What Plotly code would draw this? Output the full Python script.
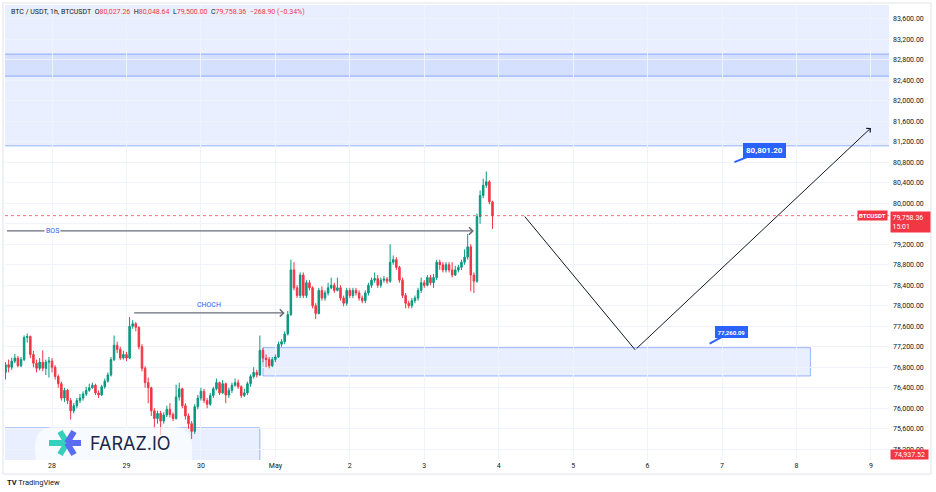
import pandas as pd
import plotly.graph_objects as go

# ---------------- data ----------------
first_bar = "2025-04-27 09:00"
bar_count = 158

open_prices = [
    76700, 76850, 76800, 76920, 76980, 76830, 76950, 77380, 77400, 77050,
    76880, 76780, 76900, 76780, 76900, 76920, 76800, 76620, 76480, 76200,
    76350, 76150, 75950, 76050, 76150, 76200, 76280, 76350, 76400, 76450,
    76300, 76260, 76420, 76530, 76650, 76950, 77230, 77150, 76980, 77050,
    76980, 77600, 77650, 77580, 77200, 76780, 76500, 76400, 75950, 75800,
    75900, 75750, 75870, 75980, 75880, 75800, 76220, 76380, 76050, 75850,
    75700, 75550, 76030, 76200, 76330, 76150, 76080, 76250, 76380, 76500,
    76300, 76480, 76260, 76350, 76450, 76500, 76420, 76250, 76300, 76480,
    76620, 76700, 76650, 77130, 76980, 76950, 76830, 76950, 77000, 77250,
    77300, 77450, 77830, 78700, 78350, 78200, 78600, 78200, 78450, 78350,
    78000, 77850, 78300, 78150, 78250, 78350, 78400, 78300, 78350, 78150,
    78050, 78300, 78200, 78300, 78250, 78150, 78100, 78250, 78400, 78500,
    78530, 78400, 78500, 78520, 78480, 78850, 78900, 78750, 78500, 78200,
    78050, 78000, 78100, 78150, 78300, 78450, 78400, 78550, 78450, 78550,
    78850, 78800, 78700, 78800, 78700, 78600, 78700, 78750, 78850, 78950,
    79150, 78600, 78480, 79740, 80150, 80350, 80420, 80027.26,
]
high_prices = [
    76900, 76950, 76990, 77060, 77020, 77000, 77420, 77460, 77420, 77120,
    76950, 76980, 77130, 76950, 77000, 76980, 76840, 76660, 76520, 76400,
    76380, 76200, 76100, 76200, 76280, 76330, 76420, 76480, 76500, 76480,
    76350, 76460, 76580, 76700, 77000, 77420, 77300, 77200, 77120, 77100,
    77780, 77720, 77680, 77600, 77250, 76820, 76600, 76420, 76000, 75950,
    75950, 75920, 76050, 76100, 75920, 76460, 76500, 76400, 76100, 75900,
    75750, 76080, 76260, 76400, 76380, 76200, 76300, 76420, 76580, 76520,
    76550, 76500, 76400, 76500, 76580, 76560, 76450, 76380, 76520, 76660,
    76800, 76750, 77420, 77180, 77050, 77000, 77000, 77050, 77300, 77350,
    77500, 77900, 78900, 78850, 78400, 78650, 78650, 78500, 78500, 78380,
    78050, 78350, 78380, 78300, 78450, 78550, 78450, 78550, 78400, 78200,
    78350, 78350, 78350, 78350, 78300, 78200, 78300, 78450, 78550, 78650,
    78600, 78550, 78580, 78560, 79200, 78980, 78950, 78780, 78550, 78250,
    78100, 78150, 78200, 78350, 78550, 78500, 78600, 78600, 78620, 78900,
    78900, 78850, 78850, 78850, 78850, 78780, 78800, 78900, 79100, 79400,
    79200, 78650, 79800, 80250, 80480, 80620, 80450, 80048.64,
]
low_prices = [
    76560, 76700, 76750, 76880, 76800, 76800, 76920, 77280, 76980, 76800,
    76700, 76740, 76720, 76650, 76600, 76700, 76560, 76400, 76150, 76120,
    76080, 75780, 75900, 76000, 76100, 76150, 76240, 76320, 76380, 76260,
    76200, 76240, 76380, 76500, 76620, 76920, 77080, 76940, 76950, 76920,
    76960, 77550, 77500, 77150, 76720, 76400, 76100, 75850, 75600, 75700,
    75480, 75700, 75830, 75820, 75750, 75780, 76150, 76000, 75780, 75600,
    75400, 75500, 75980, 76150, 76100, 76000, 76050, 76200, 76350, 76260,
    76280, 76100, 76200, 76300, 76420, 76380, 76200, 76220, 76260, 76420,
    76580, 76600, 76630, 76900, 76800, 76780, 76800, 76900, 76980, 77200,
    77250, 77420, 77800, 78300, 78150, 78150, 78150, 78150, 78300, 77950,
    77740, 77830, 78100, 78100, 78200, 78320, 78250, 78280, 78100, 77990,
    78000, 78150, 78150, 78200, 78100, 78050, 78050, 78200, 78350, 78450,
    78350, 78350, 78450, 78430, 78450, 78800, 78700, 78450, 78150, 77950,
    77950, 77950, 78050, 78100, 78250, 78350, 78380, 78400, 78350, 78500,
    78700, 78650, 78650, 78650, 78550, 78580, 78650, 78700, 78800, 78900,
    78280, 78250, 78450, 79600, 80100, 80300, 79980, 79500,
]
close_prices = [
    76850, 76800, 76920, 76980, 76830, 76950, 77380, 77400, 77050, 76880,
    76780, 76900, 76780, 76900, 76920, 76800, 76620, 76480, 76200, 76350,
    76150, 75950, 76050, 76150, 76200, 76280, 76350, 76400, 76450, 76300,
    76260, 76420, 76530, 76650, 76950, 77230, 77150, 76980, 77050, 76980,
    77600, 77650, 77580, 77200, 76780, 76500, 76400, 75950, 75800, 75900,
    75750, 75870, 75980, 75880, 75800, 76220, 76380, 76050, 75850, 75700,
    75550, 76030, 76200, 76330, 76150, 76080, 76250, 76380, 76500, 76300,
    76480, 76260, 76350, 76450, 76500, 76420, 76250, 76300, 76480, 76620,
    76700, 76650, 77130, 76980, 76950, 76830, 76950, 77000, 77250, 77300,
    77450, 77830, 78700, 78350, 78200, 78600, 78200, 78450, 78350, 78000,
    77850, 78300, 78150, 78250, 78350, 78400, 78300, 78350, 78150, 78050,
    78300, 78200, 78300, 78250, 78150, 78100, 78250, 78400, 78500, 78530,
    78400, 78500, 78520, 78480, 78850, 78900, 78750, 78500, 78200, 78050,
    78000, 78100, 78150, 78300, 78450, 78400, 78550, 78450, 78550, 78850,
    78800, 78700, 78800, 78700, 78600, 78700, 78750, 78850, 78950, 79150,
    78600, 78480, 79740, 80150, 80350, 80420, 80027.26, 79758.36,
]

price_ticks = [75200, 75600, 76000, 76400, 76800, 77200, 77600, 78000, 78400,
               78800, 79200, 79600, 80000, 80400, 80800, 81200, 81600, 82000,
               82400, 82800, 83200, 83600]
hidden_tick = 79600  # covered by the last-price label on the scale
day_ticks = ["2025-04-28", "2025-04-29", "2025-04-30", "2025-05-01", "2025-05-02",
             "2025-05-03", "2025-05-04", "2025-05-05", "2025-05-06", "2025-05-07",
             "2025-05-08", "2025-05-09"]
day_labels = ["28", "29", "30", "May", "2", "3", "4", "5", "6", "7", "8", "9"]

x_range = ["2025-04-27 08:50", "2025-05-09 05:50"]
y_range = [74991, 83868]

# drawings (levels / anchors)
bos_level = 79460
bos_times = ["2025-04-27 09:00", "2025-05-03 16:00"]
choch_level = 77860
choch_times = ["2025-04-29 02:00", "2025-05-01 03:00"]
path_times = ["2025-05-04 08:00", "2025-05-05 20:00", "2025-05-09 00:00"]
path_prices = [79770, 77140, 81470]
target_high = 80801.20
target_high_time = "2025-05-07 04:00"
target_low = 77260.09
target_low_time = "2025-05-06 20:00"
zone_top_outer = [84500, 81120]
zone_top_inner = [82910, 82480]
zone_mid = [77183, 76630]
zone_mid_times = ["2025-04-30 20:00", "2025-05-08 04:30"]
zone_low = [75620, 74000]
zone_low_end = "2025-04-30 19:00"
far_left, far_right = "2025-04-26 00:00", "2025-05-11 00:00"

last_close = 79758.36
last_open = 80027.26
last_high = 80048.64
last_low = 79500.00
range_low_label = 74937.52

# ---------------- figure ----------------
times = pd.date_range(first_bar, periods=bar_count, freq="h")

GREEN = "#089981"
RED = "#f23645"
BLUE = "#2962ff"
TXT = "#131722"

fig = go.Figure()
fig.add_trace(go.Candlestick(
    x=times, open=open_prices, high=high_prices, low=low_prices, close=close_prices,
    increasing=dict(line=dict(color=GREEN, width=1), fillcolor=GREEN),
    decreasing=dict(line=dict(color=RED, width=1), fillcolor=RED),
    whiskerwidth=0, hoverinfo="skip", showlegend=False,
))

zone_fill = "rgba(41,98,255,0.10)"
zone_line = "rgba(41,98,255,0.45)"
shapes = [
    dict(type="rect", xref="x", yref="y", x0=far_left, x1=far_right,
         y0=zone_top_outer[1], y1=zone_top_outer[0], fillcolor=zone_fill,
         line=dict(color=zone_line, width=1), layer="below"),
    dict(type="rect", xref="x", yref="y", x0=far_left, x1=far_right,
         y0=zone_top_inner[1], y1=zone_top_inner[0], fillcolor=zone_fill,
         line=dict(color=zone_line, width=1), layer="below"),
    dict(type="rect", xref="x", yref="y", x0=zone_mid_times[0], x1=zone_mid_times[1],
         y0=zone_mid[1], y1=zone_mid[0], fillcolor=zone_fill,
         line=dict(color=zone_line, width=1), layer="below"),
    dict(type="rect", xref="x", yref="y", x0=far_left, x1=zone_low_end,
         y0=zone_low[1], y1=zone_low[0], fillcolor=zone_fill,
         line=dict(color=zone_line, width=1), layer="below"),
    # current price dotted line
    dict(type="line", xref="paper", yref="y", x0=0, x1=1, y0=last_close, y1=last_close,
         line=dict(color="rgba(242,54,69,0.7)", width=1, dash="dot")),
    # outer frame
    dict(type="rect", xref="paper", yref="paper", x0=-0.0023, x1=1.0475, y0=-0.031, y1=1.0044,
         line=dict(color="#e0e3eb", width=1), fillcolor="rgba(0,0,0,0)"),
    # watermark pill
    dict(type="path", xref="paper", yref="paper", xsizemode="pixel", ysizemode="pixel",
         xanchor=0, yanchor=0,
         path="M 50,33 L 168,33 Q 187,33 187,14 L 187,0 L 31,0 Q 30,5 30,13 Q 30,33 50,33 Z",
         fillcolor="rgba(255,255,255,0.65)", line=dict(width=0), layer="above"),
]
# watermark icon arms (teal left, blue right)
cx, cy = 62, 17
arms = [((-18, 0), "#35d0bd"), ((-7, 11.5), "#35d0bd"), ((-7, -11.5), "#35d0bd"),
        ((14, 0), "#5a6cf2"), ((7, 11.5), "#5a6cf2"), ((7, -11.5), "#5a6cf2")]
for (dx, dy), col in arms:
    shapes.append(dict(type="line", xref="paper", yref="paper", xsizemode="pixel",
                       ysizemode="pixel", xanchor=0, yanchor=0,
                       x0=cx, y0=cy, x1=cx + dx, y1=cy + dy,
                       line=dict(color=col, width=6), layer="above"))

def fmt(v):
    return f"{v:,.2f}"

price_tick_text = ["" if v == hidden_tick else fmt(v) for v in price_ticks]

nb = "\u00a0"
header = (f"BTC / USDT, 1h, BTCUSDT{nb}{nb}O<span style='color:{RED}'>{fmt(last_open)}</span>{nb}{nb}"
          f"H<span style='color:{RED}'>{fmt(last_high)}</span>{nb}{nb}"
          f"L<span style='color:{RED}'>{fmt(last_low)}</span>{nb}{nb}"
          f"C<span style='color:{RED}'>{fmt(last_close)}</span>{nb}{nb}"
          f"<span style='color:{RED}'>\u2212{last_open - last_close:.2f} (\u2212{(last_open - last_close) / last_open * 100:.2f}%)</span>")

annotations = [
    # BOS
    dict(x=bos_times[1], y=bos_level, ax=bos_times[0], ay=bos_level, xref="x", yref="y",
         axref="x", ayref="y", text="", showarrow=True, arrowhead=4, arrowsize=1.1,
         arrowwidth=1.3, arrowcolor="#6a6d78"),
    dict(x="2025-04-28 00:00", y=bos_level, xref="x", yref="y", text="BOS", showarrow=False,
         font=dict(size=7, color=BLUE, family="Roboto"), bgcolor="white", borderpad=1),
    # CHOCH
    dict(x=choch_times[1], y=choch_level, ax=choch_times[0], ay=choch_level, xref="x", yref="y",
         axref="x", ayref="y", text="", showarrow=True, arrowhead=4, arrowsize=1.1,
         arrowwidth=1.3, arrowcolor="#6a6d78"),
    dict(x="2025-04-30 02:30", y=choch_level, xref="x", yref="y", text="CHOCH", showarrow=False,
         yshift=8, font=dict(size=7, color=BLUE, family="Roboto")),
    # projected path
    dict(x=path_times[1], y=path_prices[1], ax=path_times[0], ay=path_prices[0], xref="x", yref="y",
         axref="x", ayref="y", text="", showarrow=True, arrowhead=0, arrowwidth=1,
         arrowcolor=TXT, standoff=0, startstandoff=0),
    dict(x=path_times[2], y=path_prices[2], ax=path_times[1], ay=path_prices[1], xref="x", yref="y",
         axref="x", ayref="y", text="", showarrow=True, arrowhead=4, arrowsize=1.1, arrowwidth=1,
         arrowcolor=TXT, standoff=0, startstandoff=0),
    # target callouts
    dict(x=target_high_time, y=target_high, xref="x", yref="y", ax=30, ay=-12,
         text=f"<b>{fmt(target_high)}</b>", showarrow=True, arrowhead=0, arrowwidth=2,
         arrowcolor=BLUE, font=dict(size=8, color="white", family="Roboto"),
         bgcolor=BLUE, bordercolor=BLUE, borderpad=2),
    dict(x=target_low_time, y=target_low, xref="x", yref="y", ax=22, ay=-12,
         text=f"<b>{fmt(target_low)}</b>", showarrow=True, arrowhead=0, arrowwidth=2,
         arrowcolor=BLUE, font=dict(size=6, color="white", family="Roboto"),
         bgcolor=BLUE, bordercolor=BLUE, borderpad=1.5),
    # price scale labels
    dict(x=1, y=last_close, xref="paper", yref="y", xanchor="right", xshift=-1,
         text="<b>BTCUSDT</b>", showarrow=False, font=dict(size=6, color="white", family="Roboto"),
         bgcolor=RED, borderpad=1),
    dict(x=1, y=last_close, xref="paper", yref="y", xanchor="left", yanchor="top", xshift=1, yshift=5,
         text=f"{fmt(last_close)}<br>15:01", align="left", showarrow=False,
         font=dict(size=7, color="white", family="Roboto"), bgcolor=RED, borderpad=1.5, width=36),
    dict(x=1, y=0, xref="paper", yref="paper", xanchor="left", yanchor="bottom", xshift=1,
         text=fmt(range_low_label), showarrow=False,
         font=dict(size=7, color="white", family="Roboto"), bgcolor=RED, borderpad=0.5, width=36),
    # header
    dict(x=0.0045, y=0.9846, xref="paper", yref="paper", xanchor="left", yanchor="middle",
         text=header, showarrow=False, font=dict(size=7, color=TXT, family="Roboto")),
    # TradingView logo
    dict(x=0, y=-0.0484, xref="paper", yref="paper", xanchor="left", yanchor="middle",
         text="<b>TV</b> TradingView", showarrow=False, font=dict(size=7.5, color=TXT, family="Roboto")),
    # watermark text
    dict(x=0.0939, y=0.0352, xref="paper", yref="paper", xanchor="left", yanchor="middle",
         text="FARAZ.IO", showarrow=False, font=dict(size=18, color="#1c2748", family="Inter")),
]

fig.update_layout(
    width=936, height=492, autosize=False,
    margin=dict(l=5, r=47, t=5, b=32, pad=0),
    paper_bgcolor="white", plot_bgcolor="white",
    font=dict(family="Roboto", color=TXT, size=7),
    shapes=shapes, annotations=annotations,
    hovermode=False,
    xaxis=dict(type="date", range=x_range, tickvals=day_ticks, ticktext=day_labels,
               showgrid=True, gridcolor="#f0f3fa", gridwidth=1, zeroline=False,
               ticks="", tickfont=dict(size=7, color=TXT), showline=False,
               rangeslider=dict(visible=False)),
    yaxis=dict(side="right", range=y_range, tickvals=price_ticks, ticktext=price_tick_text,
               showgrid=True, gridcolor="#f0f3fa", gridwidth=1, zeroline=False,
               ticks="", tickfont=dict(size=7, color=TXT), showline=False,
               ticklabelstandoff=3),
)

fig.write_html("out.html")
